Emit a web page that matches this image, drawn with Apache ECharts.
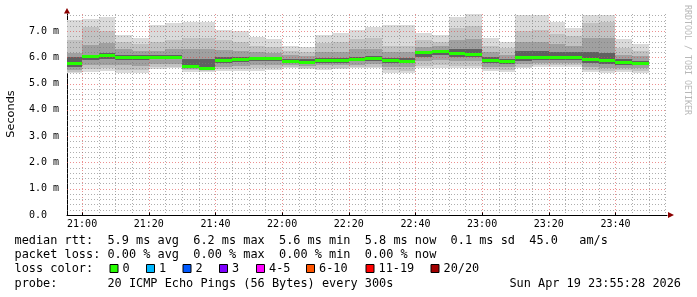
<!DOCTYPE html>
<html><head><meta charset="utf-8">
<script src="https://cdn.jsdelivr.net/npm/echarts@6/dist/echarts.min.js"></script>
<style>html,body{margin:0;padding:0;background:#fff}#c{width:697px;height:297px}</style>
</head><body><div id="c"></div>
<script>
// ---- data (ms) ----
const times   = ['20:55','21:00','21:05','21:10','21:15','21:20','21:25','21:30','21:35','21:40','21:45','21:50','21:55','22:00','22:05','22:10','22:15','22:20','22:25','22:30','22:35','22:40','22:45','22:50','22:55','23:00','23:05','23:10','23:15','23:20','23:25','23:30','23:35','23:40','23:45'];
const pingMax = [7.41,7.45,7.52,6.84,6.72,7.22,7.31,7.35,7.35,7.06,7.01,6.78,6.68,6.43,6.40,6.84,6.93,7.06,7.14,7.22,7.22,6.91,6.84,7.54,7.64,6.75,6.59,7.60,7.60,7.33,7.10,7.60,7.60,6.68,6.50];
const pingQ90 = [6.65,7.15,7.00,6.60,6.50,6.60,6.65,6.75,6.75,6.65,6.60,6.45,6.40,6.25,6.22,6.55,6.60,6.70,6.75,6.45,6.45,6.65,6.60,7.10,7.20,6.45,6.35,7.00,7.05,6.90,6.80,7.30,7.35,6.35,6.25];
const pingQ75 = [6.15,6.46,6.55,6.30,6.25,6.25,6.30,6.30,6.30,6.27,6.25,6.20,6.18,6.10,6.05,6.20,6.22,6.30,6.30,6.20,6.20,6.40,6.42,6.65,6.70,6.20,6.10,6.60,6.60,6.50,6.45,6.75,6.75,6.10,6.05];
const pingQ60 = [6.00,6.08,6.15,6.08,6.08,6.08,6.08,5.95,5.95,6.02,6.02,6.03,6.03,5.95,5.92,5.98,5.98,6.03,6.05,5.98,5.98,6.25,6.28,6.30,6.30,6.00,5.95,6.25,6.25,6.20,6.20,6.20,6.15,5.92,5.88];
const median  = [5.77,6.02,6.06,6.01,6.01,6.01,6.01,5.65,5.58,5.88,5.93,5.96,5.96,5.84,5.82,5.87,5.87,5.93,5.96,5.88,5.86,6.17,6.21,6.15,6.12,5.88,5.84,5.98,6.01,6.01,6.01,5.91,5.87,5.79,5.77];
const pingQ40 = [5.62,5.89,5.92,5.90,5.90,5.92,5.92,5.60,5.54,5.78,5.82,5.85,5.85,5.78,5.76,5.80,5.80,5.85,5.88,5.80,5.78,6.03,6.08,6.00,6.00,5.78,5.75,5.87,5.90,5.90,5.90,5.80,5.75,5.72,5.70];
const pingQ25 = [5.52,5.70,5.72,5.70,5.68,5.75,5.75,5.55,5.50,5.65,5.68,5.70,5.70,5.70,5.68,5.70,5.70,5.72,5.75,5.65,5.62,5.85,5.90,5.85,5.85,5.65,5.62,5.75,5.78,5.78,5.78,5.65,5.60,5.60,5.58];
const pingQ10 = [5.46,5.57,5.58,5.52,5.50,5.62,5.64,5.50,5.47,5.55,5.56,5.58,5.58,5.63,5.60,5.60,5.60,5.64,5.65,5.50,5.48,5.68,5.70,5.68,5.68,5.55,5.52,5.65,5.70,5.70,5.70,5.52,5.48,5.50,5.47];
const pingMin = [5.41,5.45,5.49,5.41,5.41,5.54,5.58,5.45,5.45,5.49,5.49,5.49,5.51,5.58,5.54,5.51,5.54,5.58,5.58,5.41,5.39,5.58,5.58,5.58,5.58,5.49,5.45,5.58,5.64,5.64,5.64,5.45,5.41,5.45,5.39];
const xTickLabels = ['21:00','21:20','21:40','22:00','22:20','22:40','23:00','23:20','23:40'];
const yTickValues = [0,1,2,3,4,5,6,7];
const stepSec = 300;
const endTime = '23:55:28';
const spanSec = 3 * 3600;
const yMax = 7.65;
const legendRows = [
  'median rtt:  5.9 ms avg  6.2 ms max  5.6 ms min  5.8 ms now  0.1 ms sd  45.0   am/s',
  'packet loss: 0.00 % avg  0.00 % max  0.00 % min  0.00 % now',
  'loss color:',
  'probe:       20 ICMP Echo Pings (56 Bytes) every 300s'
];
const lossLabels = ['0','1','2','3','4-5','6-10','11-19','20/20'];
const lossColors = ['#26ff00','#00b8ff','#0059ff','#7e00ff','#ff00ff','#ff5500','#ff0000','#a10000'];
const dateText = 'Sun Apr 19 23:55:28 2026';

// ---- helpers ----
const toSec = s => { const p = s.split(':').map(Number); return p[0]*3600 + p[1]*60 + (p[2]||0); };
const xMax = toSec(endTime), xMin = xMax - spanSec;
const fmt = v => { const h = Math.floor(v/3600), m = Math.floor((v%3600)/60); return String(h).padStart(2,'0')+':'+String(m).padStart(2,'0'); };

const smokeData = times.map((t,i) => [toSec(t), pingMax[i], pingQ90[i], pingQ75[i], pingQ60[i], median[i], pingQ40[i], pingQ25[i], pingQ10[i], pingMin[i]]);
const medData = times.map((t,i) => [toSec(t), median[i]]);

// grid lines from axis structure
const gridData = [];
for (let t = Math.ceil(xMin/stepSec)*stepSec; t <= xMax; t += stepSec) gridData.push([t, 0, 0, t % 1200 === 0 ? 1 : 0]);
for (let k = 1; k * 0.2 < yMax; k++) gridData.push([xMin, +(k*0.2).toFixed(1), 1, k % 5 === 0 ? 1 : 0]);

const MONO = '"DejaVu Sans Mono"';
const chart = echarts.init(document.getElementById('c'), null, {renderer:'canvas'});

const layerColors = ['#dadada','#c2c2c2','#a0a0a0','#606060'];

const graphics = [];
graphics.push({type:'text', x:11, y:114, rotation:Math.PI/2, style:{text:'Seconds', font:'11.3px "DejaVu Sans"', fill:'#000', align:'center', verticalAlign:'middle'}});
graphics.push({type:'text', x:687.5, y:60, rotation:-Math.PI/2, style:{text:'RRDTOOL / TOBI OETIKER', font:'8.3px '+MONO, fill:'#b8b8b8', align:'center', verticalAlign:'middle'}});
graphics.push({type:'polygon', shape:{points:[[64,13.5],[70,13.5],[67,8]]}, style:{fill:'#8b0000'}});
graphics.push({type:'polygon', shape:{points:[[668,212],[668,218],[674,215]]}, style:{fill:'#8b0000'}});
const rowY = [241, 255.2, 269.4, 283.6];
legendRows.forEach((s,i) => graphics.push({type:'text', x:14.5, y:rowY[i], style:{text:s, font:'11.88px '+MONO, fill:'#000', align:'left', verticalAlign:'middle'}}));
graphics.push({type:'text', x:681, y:rowY[3], style:{text:dateText, font:'11.88px '+MONO, fill:'#000', align:'right', verticalAlign:'middle'}});
const boxX = [109.5,146,182.5,219,256,306,365.5,430.5];
lossLabels.forEach((l,i) => {
  graphics.push({type:'rect', shape:{x:boxX[i]+0.5, y:264.5, width:8, height:8}, style:{fill:lossColors[i], stroke:'#000', lineWidth:1}});
  graphics.push({type:'text', x:boxX[i]+13, y:rowY[2], style:{text:l, font:'11.88px '+MONO, fill:'#000', align:'left', verticalAlign:'middle'}});
});

chart.setOption({
  animation:false,
  backgroundColor:'#ffffff',
  grid:{left:67, right:30, top:14, bottom:82, containLabel:false},
  xAxis:{type:'value', min:xMin, max:xMax,
    axisLine:{show:true, lineStyle:{color:'#000', width:1}},
    axisTick:{show:true, customValues:xTickLabels.map(toSec), length:3, inside:true, lineStyle:{color:'#000'}},
    axisLabel:{customValues:xTickLabels.map(toSec), formatter:fmt, fontFamily:'DejaVu Sans Mono', fontSize:10, color:'#000', margin:4},
    splitLine:{show:false}},
  yAxis:{type:'value', min:0, max:yMax, interval:1,
    axisLine:{show:true, lineStyle:{color:'#000', width:1}},
    axisTick:{show:false},
    axisLabel:{customValues:yTickValues, showMaxLabel:true, showMinLabel:true, formatter:v => v === 0 ? '0.0' : v.toFixed(1)+' m', fontFamily:'DejaVu Sans Mono', fontSize:10, color:'#000', align:'left', margin:38},
    splitLine:{show:false}},
  graphic:graphics,
  series:[
    {type:'custom', name:'smoke', z:2, clip:true, data:smokeData, encode:{x:0, y:[1,9]},
     renderItem:(params, api) => {
       const cs = params.coordSys; const t0 = api.value(0); const kids = [];
       for (let k = 0; k < 4; k++) {
         const p1 = api.coord([t0, api.value(1+k)]);
         const p2 = api.coord([t0+stepSec, api.value(9-k)]);
         const x1 = Math.round(p1[0]), x2 = Math.round(p2[0]), y1 = Math.round(p1[1]), y2 = Math.round(p2[1]);
         const r = echarts.graphic.clipRectByRect({x:x1, y:y1, width:x2-x1, height:y2-y1}, {x:cs.x, y:cs.y, width:cs.width, height:cs.height});
         if (r) kids.push({type:'rect', shape:r, style:{fill:layerColors[k]}});
       }
       return {type:'group', children:kids};
     }},
    {type:'custom', name:'grid', z:3, data:gridData, encode:{x:0, y:1}, silent:true,
     renderItem:(params, api) => {
       const cs = params.coordSys; const vert = api.value(2) === 0; const major = api.value(3) === 1;
       const color = major ? 'rgba(225,70,70,0.6)' : 'rgba(120,120,120,0.6)';
       if (vert) {
         const x = Math.round(api.coord([api.value(0), 0])[0]) + 0.5;
         return {type:'line', shape:{x1:x, y1:cs.y, x2:x, y2:cs.y+cs.height}, style:{stroke:color, lineWidth:1, lineDash:[1,2]}};
       }
       const y = Math.round(api.coord([xMin, api.value(1)])[1]) + 0.5;
       return {type:'line', shape:{x1:cs.x, y1:y, x2:cs.x+cs.width, y2:y}, style:{stroke:color, lineWidth:1, lineDash:[1,2]}};
     }},
    {type:'custom', name:'median', z:4, clip:true, data:medData, encode:{x:0, y:1},
     renderItem:(params, api) => {
       const cs = params.coordSys; const t0 = api.value(0);
       const p1 = api.coord([t0, api.value(1)]); const p2 = api.coord([t0+stepSec, api.value(1)]);
       const x1 = Math.round(p1[0]), x2 = Math.round(p2[0]); const y = Math.round(p1[1] - 1.5);
       const r = echarts.graphic.clipRectByRect({x:x1, y:y, width:x2-x1, height:3}, {x:cs.x, y:cs.y, width:cs.width, height:cs.height});
       return r ? {type:'rect', shape:r, style:{fill:'#26ff00'}} : null;
     }}
  ]
});
</script>
</body></html>
